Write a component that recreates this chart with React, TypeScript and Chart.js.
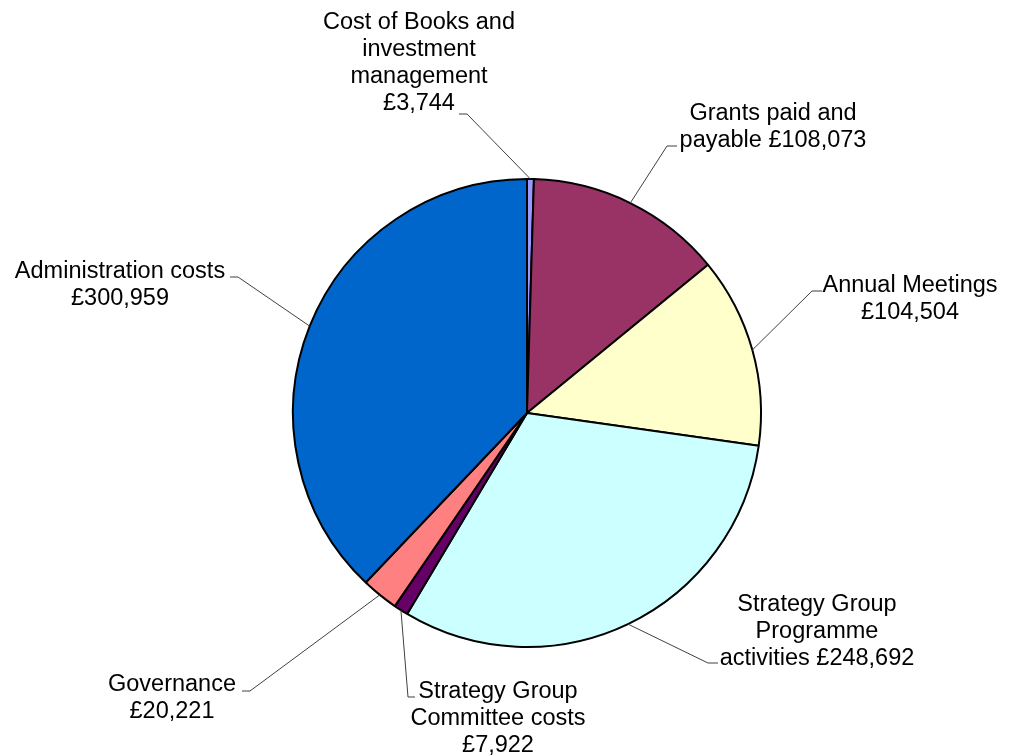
import React, { useEffect, useRef } from "react";
import { Chart, registerables } from "chart.js";

Chart.register(...registerables);

const categories: string[][] = [
  ["Cost of Books and", "investment", "management", "£3,744"],
  ["Grants paid and", "payable £108,073"],
  ["Annual Meetings", "£104,504"],
  ["Strategy Group", "Programme", "activities £248,692"],
  ["Strategy Group", "Committee costs", "£7,922"],
  ["Governance", "£20,221"],
  ["Administration costs", "£300,959"],
];
const values: number[] = [3744, 108073, 104504, 248692, 7922, 20221, 300959];
const colors: string[] = ["#9999FF", "#993366", "#FFFFCC", "#CCFFFF", "#660066", "#FF8080", "#0066CC"];

// label layout: elbow point (ex, ey), tick end (tx, ty), text centre x, first-line centre y
const labelLayout = [
  { ex: 467, ey: 114, tx: 459, ty: 114, cx: 419, cy: 23 },
  { ex: 667, ey: 146, tx: 677, ty: 146, cx: 773, cy: 114 },
  { ex: 812, ey: 291, tx: 822, ty: 291, cx: 910, cy: 286 },
  { ex: 708, ey: 663, tx: 718, ty: 663, cx: 817, cy: 605 },
  { ex: 408, ey: 697, tx: 415, ty: 697, cx: 498, cy: 692 },
  { ex: 250, ey: 691, tx: 242, ty: 691, cx: 172, cy: 685 },
  { ex: 238, ey: 277, tx: 230, ty: 277, cx: 120, cy: 272 },
];
const LINE_H = 26.7;

const labelPlugin = {
  id: "leaderLabels",
  afterDatasetsDraw(chart: any) {
    const ctx = chart.ctx;
    const meta = chart.getDatasetMeta(0);
    ctx.save();
    meta.data.forEach((arc: any, i: number) => {
      const p = arc.getProps(["x", "y", "startAngle", "endAngle", "outerRadius"], true);
      const mid = (p.startAngle + p.endAngle) / 2;
      const sx = p.x + Math.cos(mid) * p.outerRadius;
      const sy = p.y + Math.sin(mid) * p.outerRadius;
      const L = labelLayout[i];
      ctx.strokeStyle = "#404040";
      ctx.lineWidth = 1;
      ctx.beginPath();
      ctx.moveTo(sx, sy);
      ctx.lineTo(L.ex, L.ey);
      ctx.lineTo(L.tx, L.ty);
      ctx.stroke();
      ctx.fillStyle = "#000";
      ctx.font = "23.5px 'Liberation Sans', Arial, sans-serif";
      ctx.textAlign = "center";
      ctx.textBaseline = "middle";
      categories[i].forEach((line, j) => {
        ctx.fillText(line, L.cx, L.cy + j * LINE_H);
      });
    });
    ctx.restore();
  },
};

export default function App() {
  const ref = useRef<HTMLCanvasElement>(null);
  useEffect(() => {
    if (!ref.current) return;
    const chart = new Chart(ref.current, {
      type: "pie",
      data: {
        labels: categories.map((c) => c.join(" ")),
        datasets: [
          {
            data: values,
            backgroundColor: colors,
            borderColor: "#000",
            borderWidth: 2,
          },
        ],
      },
      options: {
        responsive: false,
        animation: false,
        radius: 234,
        layout: { padding: { left: 293, right: 253, top: 179, bottom: 109 } },
        plugins: {
          legend: { display: false },
          tooltip: { enabled: false },
        },
      } as any,
      plugins: [labelPlugin],
    });
    return () => chart.destroy();
  }, []);
  return (
    <div style={{ position: "absolute", left: 0, top: 0, width: 1014, height: 756, background: "#fff" }}>
      <canvas ref={ref} width={1014} height={756} style={{ width: 1014, height: 756 }} />
    </div>
  );
}
